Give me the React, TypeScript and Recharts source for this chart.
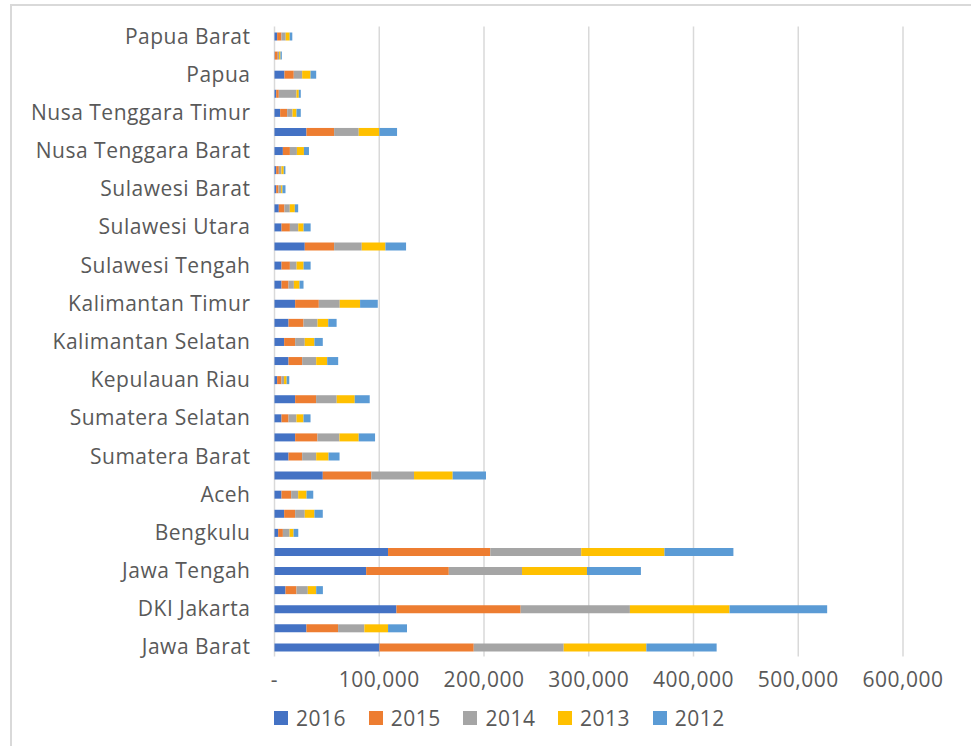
import { BarChart, Bar, XAxis, YAxis, CartesianGrid, Legend } from "recharts";

const provinces = [
  "Papua Barat", "Maluku Utara", "Papua", "Maluku", "Nusa Tenggara Timur",
  "Bali", "Nusa Tenggara Barat", "Gorontalo", "Sulawesi Barat", "Sulawesi Tenggara",
  "Sulawesi Utara", "Sulawesi Selatan", "Sulawesi Tengah", "Kalimantan Tengah", "Kalimantan Timur",
  "Kalimantan Barat", "Kalimantan Selatan", "Jambi", "Kepulauan Riau", "Riau",
  "Sumatera Selatan", "Lampung", "Sumatera Barat", "Sumatera Utara", "Aceh",
  "Bangka Belitung", "Bengkulu", "Jawa Timur", "Jawa Tengah", "DI Yogyakarta",
  "DKI Jakarta", "Banten", "Jawa Barat",
];

const y2016 = [
  2500, 300, 9500, 1600, 5400, 30500, 8000, 1600, 1600, 4100, 6700, 28900, 6700, 6700, 19700,
  13400, 9200, 13400, 2500, 19700, 6700, 19700, 13400, 46100, 6700, 9200, 3500, 108400, 87500,
  10500, 116400, 30500, 100200,
];
const y2015 = [
  4100, 2800, 8900, 2500, 6700, 26400, 6700, 2500, 2200, 5400, 8000, 28000, 8000, 6700, 22600,
  14300, 10500, 13000, 4100, 20000, 6700, 21300, 13000, 46400, 9200, 10500, 4500, 97600, 78900,
  10500, 118600, 30200, 90000,
];
const y2014 = [
  4100, 1300, 8000, 16900, 5100, 23500, 6700, 2500, 2500, 5100, 8000, 26400, 6400, 5100, 20000,
  13400, 9200, 13400, 2500, 19700, 7600, 21000, 13400, 40700, 6700, 9200, 6400, 86800, 69900,
  10800, 104300, 25100, 85900,
];
const y2013 = [
  3800, 1300, 8000, 2200, 3800, 19700, 6700, 2200, 1300, 4800, 5100, 22600, 6700, 5400, 19400,
  10200, 9200, 10500, 2500, 17200, 6700, 18400, 11800, 36900, 8000, 9200, 3800, 79500, 62000,
  8000, 95100, 22600, 78900,
];
const y2012 = [
  2500, 1300, 5400, 1900, 4100, 16900, 4800, 1600, 2900, 3200, 6700, 19700, 6700, 3800, 16900,
  8000, 8000, 10500, 2500, 14300, 6700, 15600, 10500, 31800, 6400, 8000, 4500, 65800, 51500,
  6400, 93200, 18100, 67100,
];

const xTicks = [0, 100000, 200000, 300000, 400000, 500000, 600000];

const series = [
  { key: "2016", color: "#4472C4" },
  { key: "2015", color: "#ED7D31" },
  { key: "2014", color: "#A5A5A5" },
  { key: "2013", color: "#FFC000" },
  { key: "2012", color: "#5B9BD5" },
];

const data = provinces.map((name, i) => ({
  name,
  "2016": y2016[i],
  "2015": y2015[i],
  "2014": y2014[i],
  "2013": y2013[i],
  "2012": y2012[i],
}));

const FONT = "'Open Sans', sans-serif";
const TEXT = "#595959";

const fmt = (v: number) => (v === 0 ? "-" : v.toLocaleString("en-US"));

function LegendBox() {
  return (
    <div style={{ display: "flex", height: 30, alignItems: "center", fontFamily: FONT }}>
      {series.map((s) => (
        <div key={s.key} style={{ width: 94.7, display: "flex", alignItems: "center" }}>
          <span style={{ width: 14, height: 14, background: s.color, display: "inline-block" }} />
          <span style={{ marginLeft: 8, fontSize: 21, color: TEXT, letterSpacing: 0.5 }}>{s.key}</span>
        </div>
      ))}
    </div>
  );
}

export default function App() {
  return (
    <div style={{ position: "absolute", left: 0, top: 0, width: 971, height: 746, background: "#fff" }}>
      <div
        style={{
          position: "absolute",
          left: 10,
          top: 4,
          width: 980,
          height: 760,
          borderTop: "2px solid #d9d9d9",
          borderLeft: "2px solid #d9d9d9",
        }}
      />
      <div style={{ position: "absolute", left: 0, top: 0 }}>
        <BarChart
          width={971}
          height={746}
          data={data}
          layout="vertical"
          margin={{ top: 26.5, right: 68, left: 0, bottom: 29.5 }}
        >
          <CartesianGrid horizontal={false} stroke="#d9d9d9" strokeWidth={1.5} />
          <XAxis
            type="number"
            domain={[0, 600000]}
            ticks={xTicks}
            tickFormatter={fmt}
            axisLine={false}
            tickLine={false}
            tickSize={0}
            tickMargin={16}
            height={30}
            tick={{ fill: TEXT, fontSize: 21, fontFamily: FONT, letterSpacing: 0.5 }}
          />
          <YAxis
            type="category"
            dataKey="name"
            interval={1}
            width={274.5}
            axisLine={false}
            tickLine={false}
            tickSize={0}
            tickMargin={24}
            tick={{ fill: TEXT, fontSize: 21, fontFamily: FONT, letterSpacing: 0.5 }}
          />
          <Legend
            verticalAlign="bottom"
            content={() => <LegendBox />}
            wrapperStyle={{ left: 274, bottom: 13, width: 500, height: 30 }}
          />
          {series.map((s) => (
            <Bar
              key={s.key}
              dataKey={s.key}
              stackId="a"
              fill={s.color}
              barSize={8}
              isAnimationActive={false}
            />
          ))}
        </BarChart>
      </div>
    </div>
  );
}
